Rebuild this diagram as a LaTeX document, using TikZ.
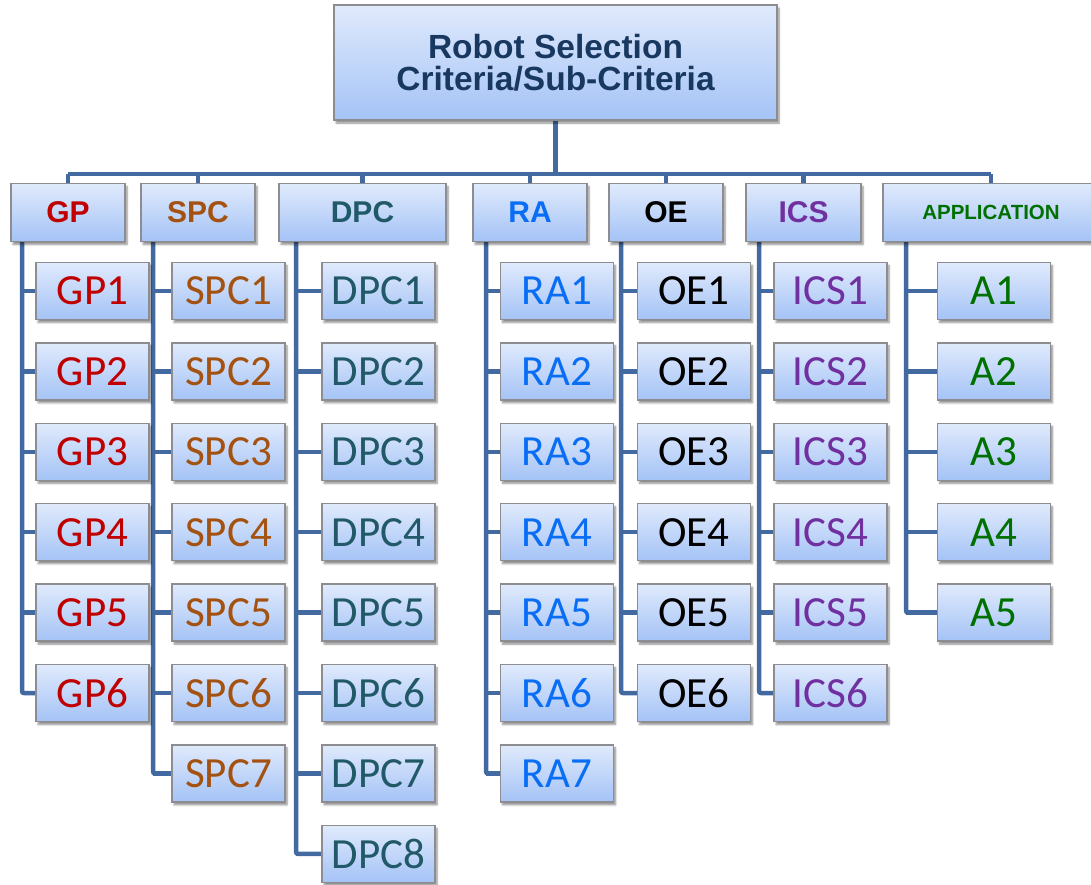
\documentclass[tikz,border=0pt]{standalone}
\usepackage{fontspec}
\setmainfont{Carlito}
\newfontfamily\headfont{Liberation Sans}
\usetikzlibrary{shadows.blur}
\pgfdeclarelayer{background}
\pgfsetlayers{background,main}

\definecolor{boxtop}{RGB}{224,234,252}
\definecolor{boxbot}{RGB}{164,195,246}
\definecolor{boxline}{RGB}{140,140,145}
\definecolor{wire}{RGB}{66,106,160}
\definecolor{titlecol}{RGB}{24,56,96}
\definecolor{cgp}{RGB}{192,0,0}
\definecolor{cspc}{RGB}{164,82,18}
\definecolor{cdpc}{RGB}{33,89,104}
\definecolor{cra}{RGB}{10,110,245}
\definecolor{coe}{RGB}{0,0,0}
\definecolor{cics}{RGB}{112,48,160}
\definecolor{capp}{RGB}{0,112,0}

\tikzset{
  box/.style={draw=boxline, line width=1.3pt, top color=boxtop, bottom color=boxbot,
    inner sep=0pt, align=center,
    blur shadow={shadow xshift=2pt, shadow yshift=-3pt, shadow blur steps=6, shadow opacity=45}},
  hdr/.style={box, minimum height=58pt},
  kid/.style={box, minimum width=113pt, minimum height=57pt},
  wireline/.style={draw=wire, line width=4.5pt, rounded corners=2pt}
}

\begin{document}
\begin{tikzpicture}[x=1pt, y=-1pt]
\useasboundingbox (0,0) rectangle (1091,884);

% root of the hierarchy
\node[box, minimum width=443pt, minimum height=115pt, text=titlecol,
      font=\headfont\bfseries\fontsize{33.5}{32}\selectfont]
  (root) at (555.5,62.5) {Robot Selection\\Criteria/Sub-Criteria};

\coordinate (bus) at (0,174);

% criteria and their sub-criteria
\foreach \n/\t/\p/\c/\hx/\hw/\fs/\vx/\kx/\k in {
  gp/GP/GP/cgp/68/114/30/22/92.5/6,
  spc/SPC/SPC/cspc/198/114/30/153/228.5/7,
  dpc/DPC/DPC/cdpc/362.5/167/30/296/378.5/8,
  ra/RA/RA/cra/530/114/30/486/557/7,
  oe/OE/OE/coe/666/114/30/621/694/6,
  ics/ICS/ICS/cics/803.5/115/30/759/830.5/6,
  app/APPLICATION/A/capp/991/216/20.5/906/994/5}
{
  \node[hdr, minimum width=\hw pt, text=\c,
        font=\headfont\bfseries\fontsize{\fs}{\fs}\selectfont]
    (\n) at (\hx,212.5) {\t};
  \coordinate (\n-v) at (\vx,241);
  \foreach \i in {1,...,\k} {
    \node[kid, text=\c, font=\fontsize{43}{43}\selectfont]
      (\n\i) at (\kx,{291+80.4*(\i-1)}) {\p\i};
  }
}

% branch lines behind the boxes
\begin{pgfonlayer}{background}
  \draw[wireline] (gp.north |- bus) -- (app.north |- bus);
  \draw[wireline, line width=5.5pt] (root.south) -- (root.south |- bus);
  \foreach \n/\k in {gp/6, spc/7, dpc/8, ra/7, oe/6, ics/6, app/5} {
    \draw[wireline] (\n.north) -- (\n.north |- bus);
    \draw[wireline] (\n-v) |- (\n\k.west);
    \foreach \i in {1,...,\k} {
      \draw[wireline] (\n\i.west -| \n-v) -- (\n\i.west);
    }
  }
\end{pgfonlayer}
\end{tikzpicture}
\end{document}
